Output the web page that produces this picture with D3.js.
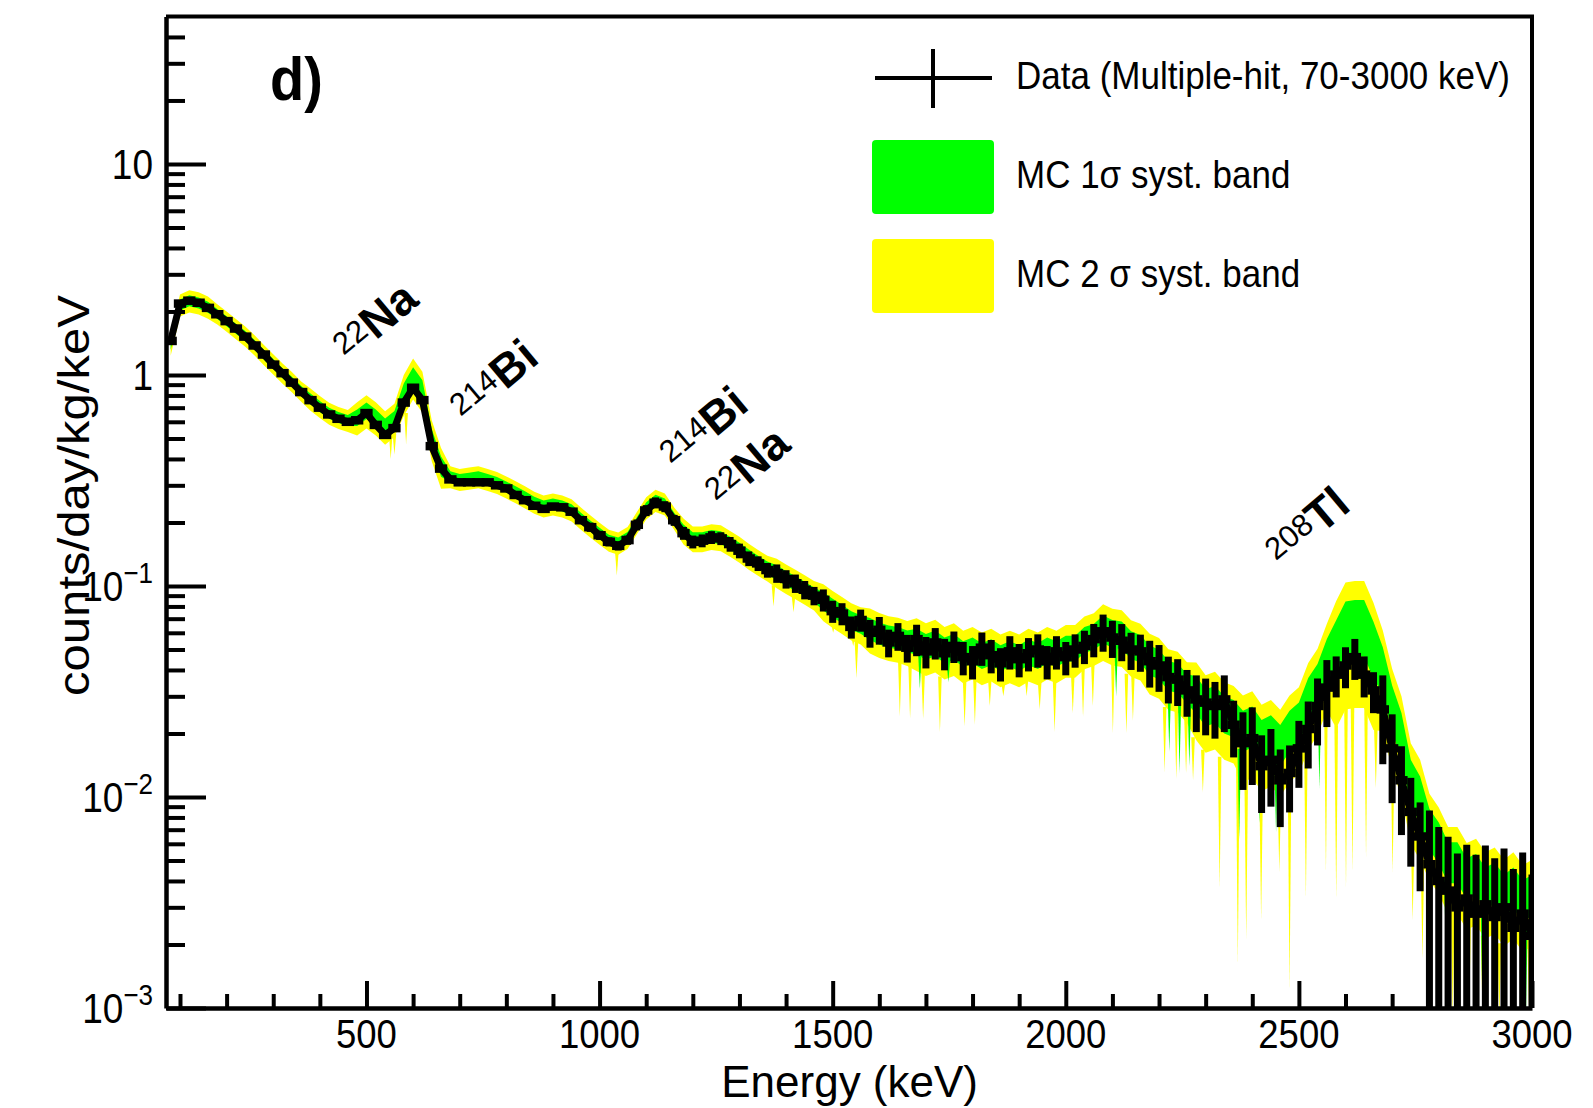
<!DOCTYPE html>
<html>
<head>
<meta charset="utf-8">
<script src="https://cdn.jsdelivr.net/npm/d3@7"></script>
<style>
  html, body { margin: 0; padding: 0; background: #fff; }
  svg { display: block; font-family: "Liberation Sans", Arial, Helvetica, sans-serif; }
</style>
</head>
<body>
<div id="chart"></div>
<script>
// energy binning: 20 keV bins, first bin 70-90 keV
const binStart = 70;
const binWidth = 20;

// measured rate per bin (counts/day/kg/keV)
const dataRate = [
  1.45, 2.18, 2.25, 2.2, 2.08, 1.94, 1.80, 1.66, 1.52, 1.38,
  1.25, 1.12, 1.02, 0.92, 0.83, 0.76, 0.70, 0.65, 0.62, 0.60,
  0.61, 0.66, 0.58, 0.52, 0.56, 0.74, 0.87, 0.76, 0.46, 0.36,
  0.32, 0.31, 0.31, 0.31, 0.31, 0.30, 0.29, 0.27, 0.255, 0.24,
  0.232, 0.238, 0.236, 0.225, 0.205, 0.19, 0.174, 0.162, 0.155, 0.165,
  0.195, 0.228, 0.248, 0.238, 0.205, 0.178, 0.162, 0.164, 0.17, 0.168,
  0.158, 0.147, 0.135, 0.128, 0.119, 0.115, 0.108, 0.103, 0.096, 0.090,
  0.086, 0.076, 0.074, 0.064, 0.069, 0.060, 0.062, 0.054, 0.058, 0.051,
  0.056, 0.049, 0.054, 0.048, 0.052, 0.046, 0.044, 0.051, 0.047, 0.043,
  0.049, 0.045, 0.048, 0.050, 0.044, 0.049, 0.046, 0.050, 0.052, 0.056,
  0.061, 0.057, 0.055, 0.050, 0.049, 0.044, 0.042, 0.037, 0.036, 0.032,
  0.029, 0.028, 0.027, 0.029, 0.022, 0.018, 0.019, 0.014, 0.015, 0.012,
  0.013, 0.017, 0.021, 0.027, 0.033, 0.038, 0.042, 0.046, 0.038, 0.032,
  0.026, 0.017, 0.012, 0.0085, 0.0065, 0.0048, 0.004, 0.0036, 0.0030, 0.0033,
  0.0028, 0.0031, 0.0027, 0.0030, 0.0024, 0.0028, 0.0022
];

// relative statistical error of the data, per 100 keV (5 bins)
const dataErr = [
  0.01, 0.01, 0.012, 0.015, 0.018, 0.02, 0.03, 0.035, 0.04, 0.05,
  0.06, 0.07, 0.08, 0.1, 0.12, 0.15, 0.17, 0.18, 0.18, 0.18,
  0.2, 0.25, 0.3, 0.4, 0.35, 0.22, 0.45, 0.8, 0.9, 0.95
];

// MC expectation per bin
const mcRate = [
  1.40, 2.15, 2.25, 2.2, 2.1, 1.95, 1.80, 1.66, 1.53, 1.39,
  1.25, 1.13, 1.02, 0.93, 0.84, 0.77, 0.71, 0.66, 0.63, 0.61,
  0.63, 0.68, 0.63, 0.57, 0.62, 0.82, 0.98, 0.85, 0.50, 0.37,
  0.33, 0.32, 0.325, 0.33, 0.32, 0.31, 0.295, 0.28, 0.265, 0.25,
  0.24, 0.245, 0.24, 0.23, 0.21, 0.193, 0.178, 0.165, 0.16, 0.17,
  0.2, 0.235, 0.255, 0.245, 0.21, 0.183, 0.168, 0.168, 0.172, 0.17,
  0.16, 0.15, 0.139, 0.13, 0.122, 0.116, 0.109, 0.103, 0.097, 0.091,
  0.085, 0.079, 0.074, 0.069, 0.066, 0.063, 0.060, 0.058, 0.057, 0.055,
  0.055, 0.052, 0.054, 0.050, 0.052, 0.048, 0.050, 0.047, 0.049, 0.046,
  0.048, 0.046, 0.049, 0.047, 0.050, 0.048, 0.051, 0.051, 0.056, 0.058,
  0.063, 0.060, 0.059, 0.053, 0.051, 0.045, 0.043, 0.038, 0.037, 0.033,
  0.031, 0.027, 0.028, 0.025, 0.024, 0.021, 0.022, 0.019, 0.020, 0.018,
  0.021, 0.023, 0.030, 0.035, 0.046, 0.053, 0.065, 0.066, 0.066, 0.052,
  0.041, 0.027, 0.020, 0.012, 0.010, 0.0072, 0.0062, 0.0050, 0.0050, 0.0042,
  0.0044, 0.0038, 0.0040, 0.0035, 0.0038, 0.0033, 0.0035
];

// relative 1 sigma systematic of the MC, per 100 keV (5 bins)
const mcSigma = [
  0.06, 0.055, 0.055, 0.06, 0.09, 0.11, 0.06, 0.06, 0.06, 0.06,
  0.06, 0.07, 0.07, 0.08, 0.1, 0.12, 0.14, 0.14, 0.14, 0.14,
  0.15, 0.16, 0.2, 0.22, 0.22, 0.3, 0.25, 0.22, 0.22, 0.22
];

// narrow downward excursions of the bands: [energy keV, lowest rate]
const yellowSpikes = [
  [552, 0.40], [560, 0.42], [585, 0.47], [1037, 0.112], [1373, 0.080], [1416, 0.075],
  [1501, 0.060], [1544, 0.052], [1551, 0.0365], [1644, 0.0242], [1666, 0.0234],
  [1694, 0.0234], [1730, 0.0203], [1783, 0.0216], [1805, 0.022], [1837, 0.027],
  [1866, 0.030], [1916, 0.030], [1944, 0.026], [1976, 0.0203], [2015, 0.025],
  [2037, 0.024], [2058, 0.027], [2101, 0.020], [2130, 0.020], [2144, 0.023],
  [2212, 0.0131], [2237, 0.0122], [2258, 0.013], [2273, 0.012], [2294, 0.0105],
  [2330, 0.0037], [2369, 0.0016], [2387, 0.0021], [2419, 0.0026], [2458, 0.0044],
  [2480, 0.0012], [2515, 0.0033], [2558, 0.0044], [2580, 0.0033], [2601, 0.0037],
  [2615, 0.0044], [2644, 0.0052], [2665, 0.011], [2701, 0.0044], [2744, 0.0026],
  [2765, 0.0017], [2801, 0.0013], [2830, 0.0009], [2865, 0.0009], [2894, 0.0009],
  [2930, 0.0009], [2958, 0.0009], [2994, 0.0009]
];
const greenSpikes = [
  [1687, 0.0325], [1748, 0.035], [2108, 0.03], [2222, 0.0164], [2244, 0.013],
  [2265, 0.014], [2372, 0.0063], [2415, 0.0075], [2451, 0.0068], [2544, 0.011],
  [2815, 0.0021], [2837, 0.0009], [2894, 0.0009], [2922, 0.0009], [2987, 0.0009]
];

const xMajorTicks = [500, 1000, 1500, 2000, 2500, 3000];
const xMinorTicks = d3.range(100, 3000, 100).filter((e) => e % 500 !== 0);
const yDecades = [-3, -2, -1, 0, 1];

// isotope labels: [mass number, element, energy, rate] at the label start
const peakLabels = [
  ["22", "Na", 463, 1.14],
  ["214", "Bi", 714, 0.586],
  ["214", "Bi", 1164, 0.351],
  ["22", "Na", 1261, 0.234],
  ["208", "Tl", 2463, 0.1216]
];

const legendItems = [
  { type: "data", label: "Data (Multiple-hit, 70-3000 keV)" },
  { type: "band", color: "#00ff00", label: "MC 1σ syst. band" },
  { type: "band", color: "#ffff00", label: "MC 2 σ syst. band" }
];

const width = 1593;
const height = 1108;
const plot = { left: 166, right: 1532, top: 16.5, bottom: 1008 };
const stretch = 1.13; // glyphs in the figure are a bit taller than wide

const svg = d3
  .select("#chart")
  .append("svg")
  .attr("width", width)
  .attr("height", height);

const x = d3.scaleLinear().domain([70, 3000]).range([plot.left, plot.right]);
const y = d3.scaleLog().domain([1e-3, 50]).range([plot.bottom, plot.top]);
const yc = (v) => y(Math.max(v, 1e-4));

const bins = dataRate.map((v, i) => ({
  lo: binStart + i * binWidth,
  hi: binStart + (i + 1) * binWidth,
  c: binStart + (i + 0.5) * binWidth,
  v: v,
  err: dataErr[Math.floor(i / 5)],
  mc: mcRate[i],
  sig: mcSigma[Math.floor(i / 5)]
}));

svg
  .append("clipPath")
  .attr("id", "clip")
  .append("rect")
  .attr("x", plot.left)
  .attr("y", plot.top)
  .attr("width", plot.right - plot.left)
  .attr("height", plot.bottom - plot.top);

const area = svg.append("g").attr("clip-path", "url(#clip)");

const binAt = (e) => bins[Math.max(0, Math.min(bins.length - 1, Math.floor((e - binStart) / binWidth)))];

function drawBand(k, color, spikes) {
  area
    .append("path")
    .datum(bins)
    .attr("fill", color)
    .attr("d", d3.area()
      .x((d) => x(d.c))
      .y0((d) => yc(d.mc * (1 - k * d.sig)))
      .y1((d) => yc(d.mc * (1 + k * d.sig))));

  area
    .selectAll(null)
    .data(spikes)
    .enter()
    .append("path")
    .attr("fill", color)
    .attr("d", (s) => {
      const b = binAt(s[0]);
      const y0 = yc(b.mc * (1 - k * b.sig)) - 3;
      const xs = x(s[0]);
      return `M${xs - 1.8},${y0}L${xs},${yc(s[1])}L${xs + 1.8},${y0}Z`;
    });
}

drawBand(2, "#ffff00", yellowSpikes);
drawBand(1, "#00ff00", greenSpikes);

// data: horizontal bar over the bin width plus vertical error bar
const dataG = area.append("g").attr("stroke", "#000").attr("fill", "none");
dataG
  .append("path")
  .datum(bins)
  .attr("stroke-width", 7)
  .attr("stroke-linejoin", "round")
  .attr("d", d3.line().x((d) => x(d.c)).y((d) => y(d.v)));
dataG
  .selectAll(".bar")
  .data(bins)
  .enter()
  .append("path")
  .attr("stroke-width", 8.5)
  .attr("d", (d) => `M${x(d.lo) - 1.5},${y(d.v)}H${x(d.hi) + 1.5}`);
dataG
  .selectAll(".err")
  .data(bins)
  .enter()
  .append("path")
  .attr("stroke-width", 7)
  .attr("d", (d) => `M${x(d.c)},${yc(d.v * (1 - d.err))}V${yc(d.v * (1 + d.err))}`);

// frame
svg
  .append("path")
  .attr("fill", "none")
  .attr("stroke", "#000")
  .attr("stroke-width", 4)
  .attr("d", `M${plot.left},${plot.top}H${plot.right}V${plot.bottom}`);

// x axis
const xAxisG = svg.append("g").attr("transform", `translate(0,${plot.bottom})`);
xAxisG
  .append("g")
  .call(d3.axisBottom(x).tickValues(xMinorTicks).tickSizeInner(-14).tickSizeOuter(0).tickFormat(""))
  .call((g) => g.select(".domain").remove());
xAxisG
  .append("g")
  .call(d3.axisBottom(x).tickValues(xMajorTicks).tickSizeInner(-27).tickSizeOuter(0).tickFormat(""))
  .call((g) => g.select(".domain").attr("stroke-width", 4.5));
xAxisG.selectAll("line").attr("stroke-width", 4);

svg
  .append("g")
  .selectAll("text")
  .data(xMajorTicks)
  .enter()
  .append("text")
  .attr("transform", (d) => `translate(${x(d)},1048) scale(1,${stretch})`)
  .attr("text-anchor", "middle")
  .attr("font-size", 36.5)
  .text((d) => d);

// y axis
const yMinor = [];
for (let dec = -3; dec <= 1; dec++) {
  for (let m = 2; m <= 9; m++) {
    const v = m * Math.pow(10, dec);
    if (v < 50) yMinor.push(v);
  }
}
const yMajor = yDecades.map((p) => Math.pow(10, p));

const yAxisG = svg.append("g").attr("transform", `translate(${plot.left},0)`);
yAxisG
  .append("g")
  .call(d3.axisLeft(y).tickValues(yMinor).tickSizeInner(-19).tickSizeOuter(0).tickFormat(""))
  .call((g) => g.select(".domain").remove());
yAxisG
  .append("g")
  .call(d3.axisLeft(y).tickValues(yMajor).tickSizeInner(-40).tickSizeOuter(0).tickFormat(""))
  .call((g) => g.select(".domain").attr("stroke-width", 4.5));
yAxisG.selectAll("line").attr("stroke-width", 4);

const yLabels = svg
  .append("g")
  .selectAll("text")
  .data(yDecades)
  .enter()
  .append("text")
  .attr("transform", (p) => `translate(153,${y(Math.pow(10, p)) + 15}) scale(1,${stretch})`)
  .attr("text-anchor", "end")
  .attr("font-size", 37);
yLabels.each(function (p) {
  const t = d3.select(this);
  if (p === 0) t.text("1");
  else if (p === 1) t.text("10");
  else {
    t.append("tspan").text("10");
    t.append("tspan").attr("font-size", 26).attr("dy", -16).text("−" + -p);
  }
});

// axis titles
svg
  .append("text")
  .attr("x", 978)
  .attr("y", 1097)
  .attr("text-anchor", "end")
  .attr("font-size", 44)
  .text("Energy (keV)");

svg
  .append("text")
  .attr("transform", "translate(89,295) rotate(-90)")
  .attr("text-anchor", "end")
  .attr("font-size", 45)
  .attr("textLength", 401)
  .attr("lengthAdjust", "spacingAndGlyphs")
  .text("counts/day/kg/keV");

// panel tag
svg
  .append("text")
  .attr("transform", "translate(270,100) scale(1,1.08)")
  .attr("font-size", 56)
  .attr("font-weight", "bold")
  .text("d)");

// isotope labels
const labelG = svg
  .append("g")
  .selectAll("text")
  .data(peakLabels)
  .enter()
  .append("text")
  .attr("transform", (d) => `translate(${x(d[2])},${y(d[3])}) rotate(-40)`);
labelG.append("tspan").attr("font-size", 31).attr("dy", -9).text((d) => d[0]);
labelG.append("tspan").attr("font-size", 46).attr("font-weight", "bold").attr("dy", 9).text((d) => d[1]);

// legend
const legend = svg.append("g");
const legendRows = [78, 177, 276];
legendItems.forEach((item, i) => {
  const cy = legendRows[i];
  if (item.type === "data") {
    legend.append("line").attr("x1", 875).attr("x2", 992).attr("y1", cy).attr("y2", cy)
      .attr("stroke", "#000").attr("stroke-width", 4);
    legend.append("line").attr("x1", 933).attr("x2", 933).attr("y1", cy - 29).attr("y2", cy + 30)
      .attr("stroke", "#000").attr("stroke-width", 4);
  } else {
    legend.append("rect").attr("x", 872).attr("y", cy - 37).attr("width", 122).attr("height", 74)
      .attr("rx", 4).attr("fill", item.color);
  }
  legend.append("text")
    .attr("transform", `translate(1016,${cy + 11}) scale(1,1.1)`)
    .attr("font-size", 35)
    .text(item.label);
});
</script>
</body>
</html>
